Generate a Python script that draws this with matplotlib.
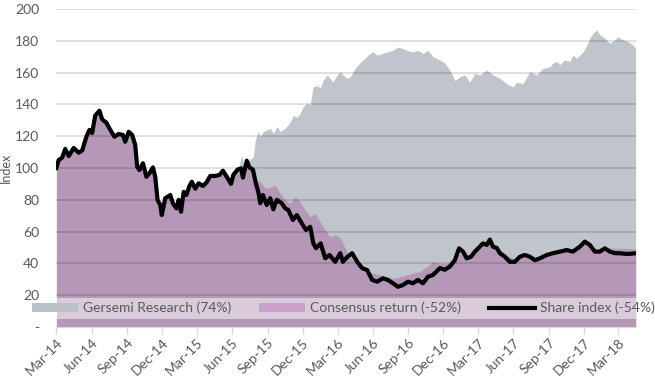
import matplotlib
import numpy as np
import pandas as pd

matplotlib.use('Agg')
import matplotlib.pyplot as plt
from matplotlib import dates
from matplotlib.lines import Line2D
from matplotlib.patches import Patch, Rectangle

plt.rcParams['font.family'] = ['Lato', 'DejaVu Sans']

TEXT_COLOR = '#595959'
GREY_FILL = '#C0C5CC'
PURPLE_FILL = '#B597B7'

# share index (black line)
share_dates = [
    '2014-03-01', '2014-03-07', '2014-03-16', '2014-03-24', '2014-04-02', '2014-04-15', '2014-04-28',
    '2014-05-07', '2014-05-18', '2014-05-26', '2014-06-02', '2014-06-10', '2014-06-21', '2014-06-28',
    '2014-07-09', '2014-07-19', '2014-07-30', '2014-08-10', '2014-08-21', '2014-08-27', '2014-09-05',
    '2014-09-14', '2014-09-22', '2014-09-27', '2014-10-03', '2014-10-12', '2014-10-21', '2014-10-29',
    '2014-11-07', '2014-11-13', '2014-11-19', '2014-11-26', '2014-11-30', '2014-12-09', '2014-12-22',
    '2014-12-29', '2015-01-07', '2015-01-13', '2015-01-19', '2015-01-26', '2015-02-02', '2015-02-10',
    '2015-02-16', '2015-02-25', '2015-03-06', '2015-03-17', '2015-03-26', '2015-04-05', '2015-04-18',
    '2015-04-29', '2015-05-08', '2015-05-18', '2015-05-29', '2015-06-04', '2015-06-15', '2015-06-24',
    '2015-06-29', '2015-07-09', '2015-07-16', '2015-07-25', '2015-08-02', '2015-08-08', '2015-08-13',
    '2015-08-20', '2015-08-30', '2015-09-08', '2015-09-16', '2015-09-25', '2015-10-08', '2015-10-17',
    '2015-10-25', '2015-11-06', '2015-11-16', '2015-11-29', '2015-12-10', '2015-12-21', '2015-12-29',
    '2016-01-05', '2016-01-17', '2016-01-29', '2016-02-09', '2016-02-24', '2016-03-08', '2016-03-15',
    '2016-03-26', '2016-04-08', '2016-04-21', '2016-05-04', '2016-05-17', '2016-05-30', '2016-06-12',
    '2016-06-27', '2016-07-10', '2016-07-23', '2016-08-05', '2016-08-18', '2016-08-31', '2016-09-13',
    '2016-09-26', '2016-10-09', '2016-10-22', '2016-11-04', '2016-11-17', '2016-11-22', '2016-12-05',
    '2016-12-18', '2016-12-31', '2017-01-11', '2017-01-21', '2017-01-31', '2017-02-11', '2017-02-21',
    '2017-03-06', '2017-03-14', '2017-03-24', '2017-04-01', '2017-04-09', '2017-04-19', '2017-04-27',
    '2017-05-10', '2017-05-23', '2017-06-05', '2017-06-18', '2017-07-01', '2017-07-14', '2017-07-27',
    '2017-08-09', '2017-08-27', '2017-09-12', '2017-09-30', '2017-10-18', '2017-11-03', '2017-11-21',
    '2017-12-04', '2017-12-17', '2017-12-30', '2018-01-12', '2018-01-25', '2018-02-07', '2018-02-20',
    '2018-03-05', '2018-03-18', '2018-03-31', '2018-04-15',
]
share_values = [
    100, 105, 106.5, 112, 107.5, 112.6, 109.6,
    111, 119.7, 124, 122, 133, 136, 130.6,
    128.5, 124, 119.7, 121.4, 120.8, 116.5, 122.8,
    120.8, 114.5, 100.8, 98.7, 103, 94.5, 96.7,
    100.4, 94.5, 80, 76.7, 70.4, 81, 83,
    77.8, 74.6, 80, 72.5, 85, 83, 88.7,
    91.4, 87, 90.4, 88.7, 90.8, 95, 95,
    95.6, 98.3, 94.5, 90, 95.6, 99, 99.8,
    94, 104.6, 100.4, 99, 90, 85, 77.8,
    83, 76.7, 81, 74, 80, 77.8, 74.6,
    73.6, 67.3, 70.4, 65.2, 61, 63, 52.6,
    49.5, 52.6, 43.2, 45.3, 41, 46.4, 41,
    44, 46.4, 41, 37, 35.8, 29.6, 28.5,
    30.6, 29.6, 27.5, 25.3, 26.4, 28.5, 27.5,
    29.6, 27.5, 31.6, 32.7, 35.8, 37, 36,
    38, 42, 49.5, 47.4, 43.2, 44.2, 47.4,
    50.5, 52.6, 51.6, 55, 50.5, 49.7, 46.4,
    44.2, 41, 41, 44.2, 45.3, 44.2, 42,
    43.2, 45.3, 46.4, 47.4, 48.4, 47.4, 50.5,
    53.7, 51.6, 47.4, 47.4, 49.5, 47.4, 46.4,
    46.4, 46, 46, 46.4,
]

# consensus return (purple area) once it departs from the share index
consensus_dates = [
    '2015-07-25', '2015-07-31', '2015-08-13', '2015-08-26', '2015-09-08', '2015-09-21', '2015-10-04',
    '2015-10-17', '2015-10-30', '2015-11-12', '2015-11-25', '2015-12-08', '2015-12-21', '2016-01-03',
    '2016-01-16', '2016-01-29', '2016-02-11', '2016-02-24', '2016-03-08', '2016-03-21', '2016-04-03',
    '2016-04-16', '2016-05-12', '2016-05-16', '2016-06-01', '2016-06-19', '2016-07-08', '2016-07-23',
    '2016-08-10', '2016-08-29', '2016-09-13', '2016-10-01', '2016-10-20', '2016-11-04', '2016-11-22',
    '2016-12-10', '2016-12-26', '2017-01-13', '2017-01-31', '2017-02-21', '2017-03-14', '2017-04-01',
    '2017-04-19', '2017-05-10', '2017-05-31', '2017-06-18', '2017-07-14', '2017-08-09', '2017-09-12',
    '2017-10-18', '2017-11-21', '2017-12-09', '2017-12-30', '2018-01-25', '2018-02-20', '2018-03-18',
    '2018-04-15',
]
consensus_values = [
    99, 92.5, 91.4, 87.4, 88, 89.3, 84,
    80, 77.8, 82, 78.8, 73.6, 69.4, 71.5,
    66.2, 61, 56.8, 57.9, 56, 49.5, 44,
    40, 38, 34.8, 33.8, 32.7, 31.6, 30.6,
    31.6, 32.7, 33.8, 34.8, 38, 41, 40,
    40, 41, 46, 45, 47, 51, 53,
    51, 46, 43, 44, 44, 43, 46,
    48, 50, 53, 49, 50, 49.5, 49.5,
    49,
]

# Gersemi Research (grey area)
gersemi_dates = [
    '2015-06-17', '2015-06-26', '2015-07-02', '2015-07-13', '2015-07-26', '2015-07-31', '2015-08-08',
    '2015-08-13', '2015-08-21', '2015-08-31', '2015-09-08', '2015-09-16', '2015-09-26', '2015-10-04',
    '2015-10-17', '2015-10-30', '2015-11-07', '2015-11-17', '2015-11-25', '2015-12-02', '2015-12-13',
    '2015-12-21', '2015-12-28', '2016-01-08', '2016-01-16', '2016-01-23', '2016-02-03', '2016-02-11',
    '2016-02-18', '2016-02-29', '2016-03-08', '2016-03-15', '2016-03-26', '2016-04-03', '2016-04-16',
    '2016-04-28', '2016-05-11', '2016-05-24', '2016-06-01', '2016-06-12', '2016-06-25', '2016-07-08',
    '2016-07-23', '2016-08-05', '2016-08-18', '2016-08-29', '2016-09-13', '2016-09-26', '2016-10-09',
    '2016-10-22', '2016-11-04', '2016-11-22', '2016-12-05', '2016-12-18', '2016-12-31', '2017-01-13',
    '2017-01-26', '2017-02-08', '2017-02-21', '2017-03-06', '2017-03-24', '2017-04-09', '2017-04-27',
    '2017-05-15', '2017-05-31', '2017-06-10', '2017-06-26', '2017-07-14', '2017-08-01', '2017-08-17',
    '2017-09-04', '2017-09-12', '2017-09-22', '2017-09-30', '2017-10-13', '2017-10-26', '2017-11-03',
    '2017-11-13', '2017-11-29', '2017-12-09', '2017-12-17', '2017-12-25', '2018-01-04', '2018-01-12',
    '2018-01-25', '2018-02-07', '2018-02-20', '2018-02-28', '2018-03-13', '2018-03-26', '2018-04-08',
    '2018-04-15',
]
gersemi_values = [
    99, 108, 100, 104.6, 107, 117.6, 122.8,
    119.7, 123, 124, 125, 121.8, 126, 123,
    125, 129, 133, 132, 134.4, 138.6, 140.7,
    139.6, 151, 152, 150, 155, 158.5, 156.4,
    154, 158.5, 160.6, 158.5, 156.4, 157.4, 162.7,
    166, 169, 172, 173, 171, 172, 173,
    174, 176, 175, 174, 173, 174, 172,
    174, 170, 168, 166, 161.6, 155, 157.4,
    158.5, 154, 159.5, 158.5, 161.6, 158.5, 156.4,
    153, 151, 154, 153, 160.6, 158.5, 162.7,
    163.7, 166, 167, 165, 168, 167, 171,
    169, 173, 177, 181.6, 184.7, 186.8, 183.7,
    181.6, 178.4, 180.5, 182.6, 180.5, 179.4, 177.4,
    175.3,
]

legend_labels = ['Gersemi Research (74%)', 'Consensus return (-52%)', 'Share index (-54%)']
y_ticks = list(range(0, 201, 20))
y_tick_labels = ['-'] + [str(v) for v in y_ticks[1:]]

share = pd.Series(share_values, index=pd.to_datetime(share_dates))
gersemi = pd.Series(gersemi_values, index=pd.to_datetime(gersemi_dates))
# consensus tracks the share index until mid 2015
consensus = pd.concat([share[:'2015-07-20'],
                       pd.Series(consensus_values, index=pd.to_datetime(consensus_dates))])

fig = plt.figure(figsize=(6.55, 3.83), dpi=100)
ax = fig.add_axes([56 / 655, 1 - 327 / 383, 580 / 655, 318 / 383])

ax.fill_between(gersemi.index, 0, gersemi.values, color=GREY_FILL, lw=0, zorder=1)
ax.fill_between(consensus.index, 0, consensus.values, color=PURPLE_FILL, lw=0, zorder=2)
ax.plot(share.index, share.values, color='black', lw=3, solid_joinstyle='round', zorder=6)

for v in y_ticks[1:]:
    ax.axhline(v, color='black', alpha=0.15, lw=1.2, zorder=3)

ax.set_xlim(pd.Timestamp('2014-02-28'), pd.Timestamp('2018-04-16'))
ax.set_ylim(0, 200)
ax.set_yticks(y_ticks)
ax.set_yticklabels(y_tick_labels)
ax.set_ylabel('Index', color=TEXT_COLOR, fontsize=9, labelpad=2)

ax.xaxis.set_major_locator(dates.MonthLocator(bymonth=[3, 6, 9, 12]))
ax.xaxis.set_major_formatter(dates.DateFormatter('%b-%y'))
ax.tick_params(axis='y', length=0, pad=12, labelsize=10, labelcolor=TEXT_COLOR)
ax.tick_params(axis='x', length=5, width=1, color='#D9D9D9', pad=2, labelsize=10, labelcolor=TEXT_COLOR)
for lab in ax.get_xticklabels():
    lab.set_rotation(45)
    lab.set_ha('right')
    lab.set_rotation_mode('anchor')

for side in ['left', 'right', 'top']:
    ax.spines[side].set_visible(False)
ax.spines['bottom'].set_color('#D9D9D9')

# light band behind the legend
ax.add_patch(Rectangle((0, 5), 1, 13.3, transform=ax.get_yaxis_transform(),
                       facecolor='white', alpha=0.5, lw=0, zorder=4))

handles = [Patch(facecolor='#BCC1C8', edgecolor='none'),
           Patch(facecolor='#CCA0CC', edgecolor='none'),
           Line2D([], [], color='black', lw=3)]
fig.legend(handles, legend_labels, loc='center', ncol=3, mode='expand',
           bbox_to_anchor=(32 / 655, 1 - 313 / 383, 623 / 655, 10 / 383),
           frameon=False, borderaxespad=0, borderpad=0, fontsize=10,
           handlelength=3.3, handleheight=0.6, handletextpad=0.35,
           labelcolor=TEXT_COLOR)

plt.savefig('out.png', dpi=100)
